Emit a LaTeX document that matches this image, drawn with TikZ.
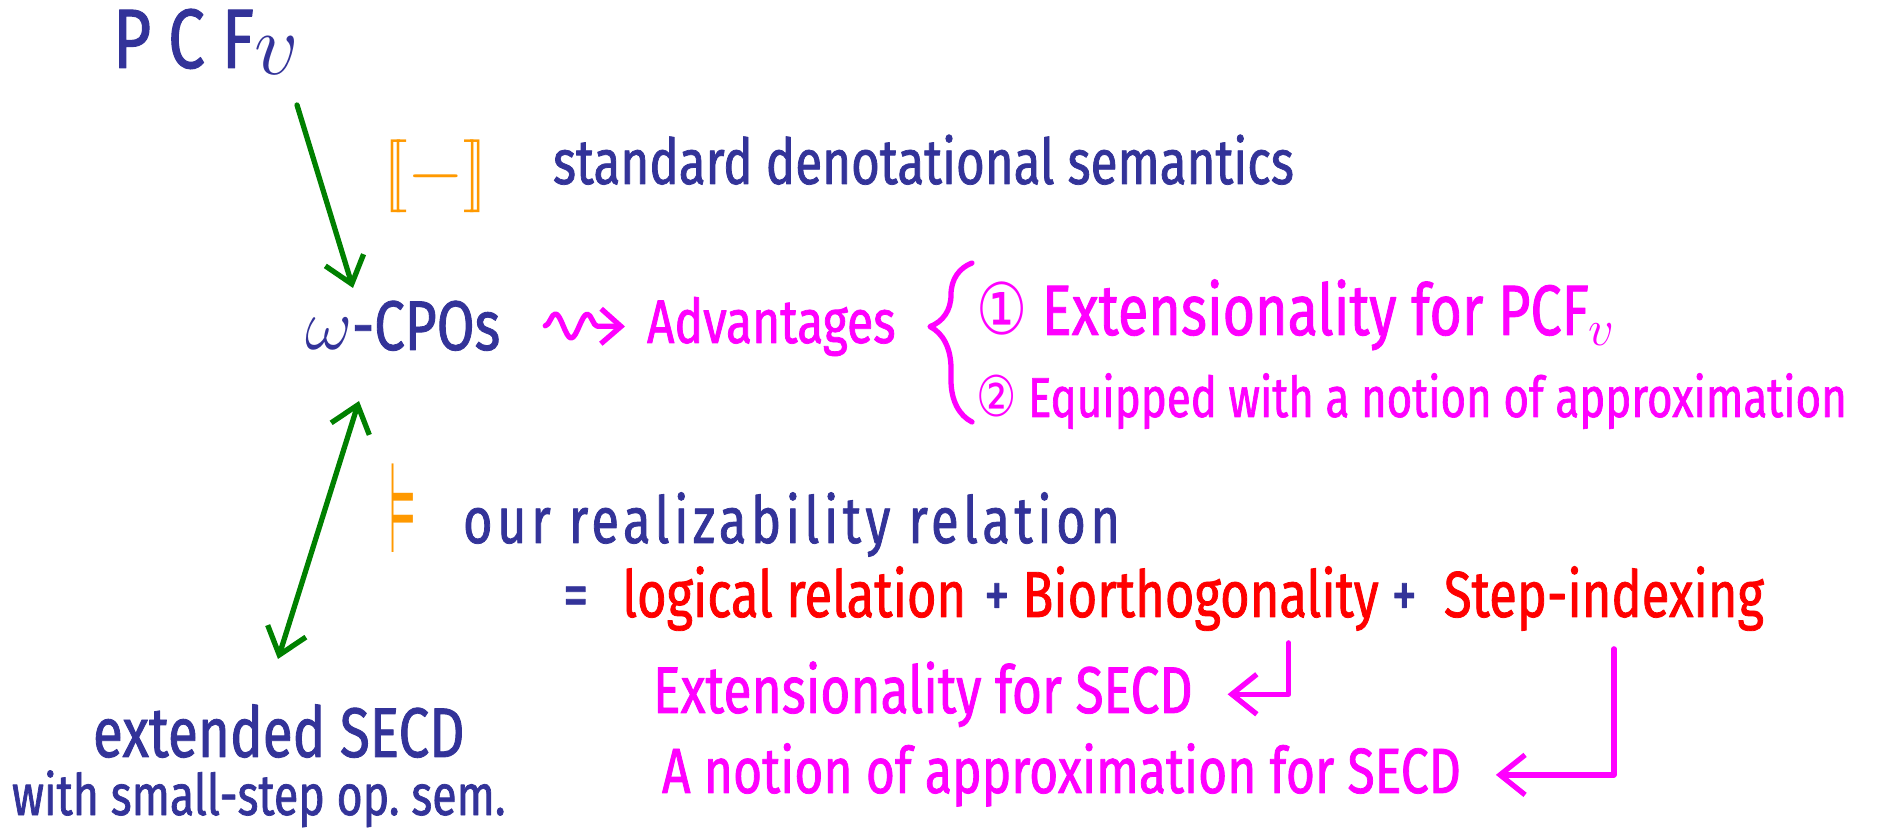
\documentclass[tikz,border=0pt]{standalone}
\usepackage{fontspec}
\setmainfont[FakeStretch=0.78,FakeBold=1.2]{Fira Sans}
\newfontfamily\circfont[FakeStretch=0.8]{DejaVu Sans}
\usetikzlibrary{arrows.meta}
\usetikzlibrary{positioning, math}
\usetikzlibrary{decorations.pathreplacing, decorations.pathmorphing}
\definecolor{myblue}{RGB}{51,51,153}
\definecolor{mygreen}{RGB}{0,128,0}
\definecolor{myorange}{RGB}{255,153,0}
\definecolor{mymagenta}{RGB}{255,0,255}
\definecolor{myred}{RGB}{255,0,0}

\begin{document}
\begin{tikzpicture}[every node/.style={inner sep=0pt, outer sep=0pt}, line cap=round, line join=round]
\tikzmath{
\lw=1.5;
\gap=0.35;
}
\useasboundingbox (0,0) rectangle (18.79,8.37);

\node[anchor=base west, color=myblue, font=\fontsize{24}{28}\selectfont] (pcf) at (1.13,7.69) {{\addfontfeature{LetterSpace=20}PCF}\raisebox{-0.08em}{$v$}};
\node[anchor=base west, color=myblue, font=\fontsize{20}{24}\selectfont] (cpos) at (3.05,4.87) {$\omega$-CPOs};
\node[anchor=base west, color=myblue, font=\fontsize{20}{24}\selectfont] (secd) at (0.93,0.80) {extended SECD};
\node[anchor=base west, color=myblue, font=\fontsize{16.3}{19}\selectfont] (opsem) at (0.12,0.22) {with small-step op.\ sem.};

\draw[color=mygreen, line width=\lw, -{Straight Barb[length=2.5mm,width=4mm]}] ([xshift=1.84cm,yshift=-0.37cm]pcf.base west) -- ([xshift=0.48cm,yshift=0.62cm]cpos.base west);
\draw[color=mygreen, line width=\lw, {Straight Barb[length=2.5mm,width=4mm]}-{Straight Barb[length=2.5mm,width=4mm]}] ([xshift=0.54cm,yshift=-0.51cm]cpos.base west) -- ([xshift=1.85cm,yshift=0.98cm]secd.base west);

\node[anchor=base west, color=myorange, font=\fontsize{20}{24}\selectfont] (sem) at (3.83,6.42) {$[\![-]\!]$};
\node[anchor=base west, color=myblue, font=\fontsize{18}{22}\selectfont] (std) at (5.53,6.53) {standard denotational semantics};

\node[anchor=base west, color=mymagenta, font=\fontsize{17.5}{21}\selectfont] (adv) at (6.47,4.94) {Advantages};
\draw[color=mymagenta, line width=\lw, decorate, decoration={snake, amplitude=1.2mm, segment length=3.2mm, post length=2mm}, -{Straight Barb[length=2mm,width=3.5mm]}] ([xshift=0.45cm]cpos.east) -- ([xshift=-0.22cm]adv.west);

\draw[color=mymagenta, line width=\lw, decorate, decoration={brace, amplitude=0.42cm, aspect=0.6}] (9.72,4.15) -- (9.72,5.74);
\node[anchor=base west, color=mymagenta, font=\fontsize{20.3}{24}\selectfont] (ext1) at (9.76,5.02) {{\circfont ①} Extensionality for PCF$_v$};
\node[anchor=base west, color=mymagenta, font=\fontsize{16}{19}\selectfont] (ext2) at (9.76,4.20) {{\circfont ②} Equipped with a notion of approximation};

\node[anchor=base west, color=myorange, font=\fontsize{36}{40}\selectfont] (models) at (3.89,2.84) {\scalebox{0.3}[1]{\circfont ⊨}};
\node[anchor=base west, color=myblue, font=\fontsize{18.5}{22}\selectfont\addfontfeature{LetterSpace=7}] (real) at (4.63,2.94) {our realizability relation};

\begin{scope}[font=\fontsize{18.5}{22}\selectfont]
\node[anchor=base west, color=myblue] (eq) at (5.63,2.20) {=};
\node[base right=0.34cm of eq, color=myred] (logrel) {logical relation};
\node[base right=0.18cm of logrel, color=myblue] (plusa) {+};
\node[base right=0.13cm of plusa, color=myred] (bio) {Biorthogonality};
\node[base right=0.13cm of bio, color=myblue] (plusb) {+};
\node[base right=0.27cm of plusb, color=myred] (step) {Step-indexing};
\end{scope}

\node[anchor=base west, color=mymagenta, font=\fontsize{18.8}{22}\selectfont] (ext3) at (6.53,1.24) {Extensionality for SECD};
\node[anchor=base west, color=mymagenta, font=\fontsize{18.2}{22}\selectfont] (ext4) at (6.62,0.44) {A notion of approximation for SECD};

\draw[color=mymagenta, line width=\lw, shorten >=\gap cm, -{Straight Barb[length=2.5mm,width=4mm]}] ([xshift=-0.90cm,yshift=-0.12cm]bio.south east) |- (ext3.east);
\draw[color=mymagenta, line width=\lw, shorten >=\gap cm, -{Straight Barb[length=2.5mm,width=4mm]}] ([xshift=-1.50cm,yshift=-0.18cm]step.south east) |- (ext4.east);
\end{tikzpicture}
\end{document}
